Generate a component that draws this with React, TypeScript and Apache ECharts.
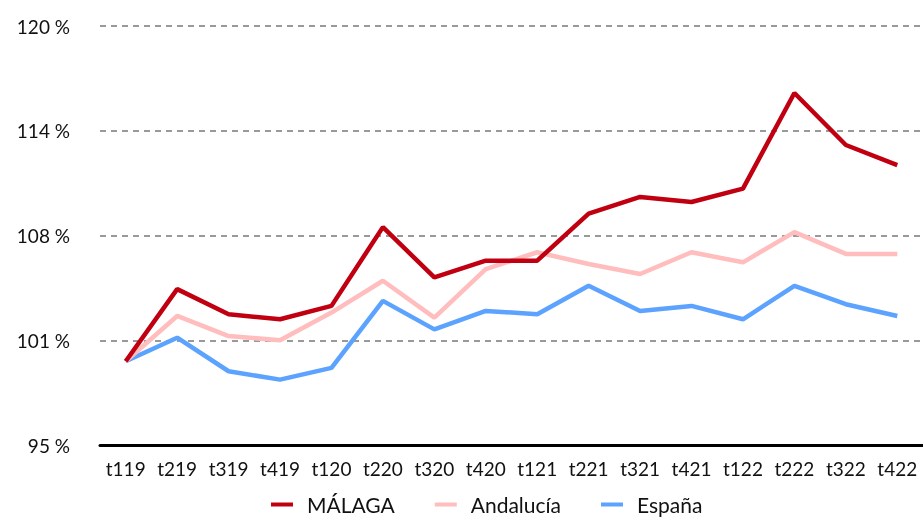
import React, { useEffect, useRef } from "react";
import * as echarts from "echarts";

const categories = ["t119","t219","t319","t419","t120","t220","t320","t420","t121","t221","t321","t421","t122","t222","t322","t422"];
const malaga = [100.0, 104.3, 102.8, 102.5, 103.3, 108.0, 105.0, 106.0, 106.0, 108.8, 109.8, 109.5, 110.3, 116.0, 112.9, 111.7];
const andalucia = [100.0, 102.7, 101.5, 101.25, 102.9, 104.8, 102.6, 105.5, 106.5, 105.8, 105.2, 106.5, 105.9, 107.7, 106.4, 106.4];
const espana = [100.0, 101.4, 99.4, 98.9, 99.6, 103.6, 101.9, 103.0, 102.8, 104.5, 103.0, 103.3, 102.5, 104.5, 103.4, 102.7];
const seriesNames = ["MÁLAGA", "Andalucía", "España"];
const colors = ["#C00010", "#FFBDBD", "#5CA2FF"];

export default function App() {
  const ref = useRef<HTMLDivElement>(null);
  useEffect(() => {
    if (!ref.current) return;
    const chart = echarts.init(ref.current, null, { renderer: "svg" });
    const font = "Lato, 'Noto Sans', sans-serif";
    const data = [malaga, andalucia, espana];
    chart.setOption({
      animation: false,
      textStyle: { fontFamily: font },
      grid: { left: 100, right: 0, top: 26, bottom: 77 },
      legend: {
        top: 494,
        left: 271,
        padding: 0,
        itemWidth: 22,
        itemHeight: 4,
        itemGap: 40,
        icon: "rect",
        textStyle: { fontSize: 21, color: "#111", fontFamily: font, padding: [0, 0, 0, 9] },
        data: seriesNames,
      },
      xAxis: {
        type: "category",
        data: categories,
        boundaryGap: true,
        axisLine: { lineStyle: { color: "#000", width: 3 } },
        axisTick: { show: false },
        axisLabel: { fontSize: 19, color: "#111", margin: 14, interval: 0, fontFamily: font },
      },
      yAxis: {
        type: "value",
        min: 95,
        max: 120,
        interval: 6.25,
        axisLine: { show: false },
        axisTick: { show: false },
        axisLabel: {
          fontSize: 19,
          color: "#111",
          margin: 30,
          fontFamily: font,
          formatter: (v: number) => Math.round(v) + " %",
        },
        splitLine: { lineStyle: { color: "#999", width: 2, type: [6, 5] } },
      },
      series: seriesNames.map((n, i) => ({
        name: n,
        type: "line",
        data: data[i],
        symbol: "none",
        z: 10 - i,
        lineStyle: { color: colors[i], width: 4.5 },
        itemStyle: { color: colors[i] },
      })),
    });
    return () => chart.dispose();
  }, []);
  return <div ref={ref} style={{ position: "fixed", left: 0, top: 0, width: 923, height: 522 }} />;
}
